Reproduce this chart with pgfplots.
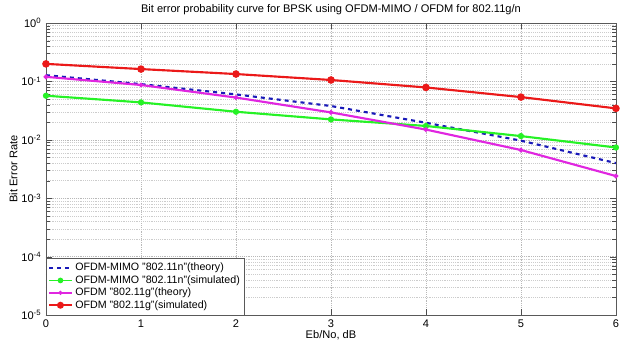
\documentclass[border=0pt]{standalone}
\usepackage{pgfplots}
\pgfplotsset{compat=1.18}
\usepackage{fontspec}
\setmainfont{Liberation Sans}
\definecolor{mblue}{rgb}{0.1,0.1,0.72}
\definecolor{mmag}{rgb}{0.88,0.15,0.88}
\definecolor{mgreen}{rgb}{0.15,0.95,0.15}
\definecolor{mred}{rgb}{0.92,0.1,0.1}
\begin{document}
\begin{tikzpicture}[x=1pt,y=1pt]
\begin{axis}[
  scale only axis,
  width=427.5pt, height=219pt,
  ymode=log,
  xmin=0, xmax=6, ymin=1e-5, ymax=1,
  xtick={0,1,2,3,4,5,6},
  ytick={1e-5,1e-4,1e-3,1e-2,1e-1,1},
  yticklabels={10\textsuperscript{-5},10\textsuperscript{-4},10\textsuperscript{-3},10\textsuperscript{-2},10\textsuperscript{-1},10\textsuperscript{0}},
  grid=both,
  major grid style={gray!55, densely dotted, line width=0.4pt},
  minor grid style={gray!40, densely dotted, line width=0.4pt},
  axis line style={gray!70!black, line width=0.6pt},
  tick style={gray!60!black},
  tick align=inside,
  ticklabel style={font=\fontsize{8.3}{9}\selectfont},
  /pgf/number format/assume math mode=true,
  title={Bit error probability curve for BPSK using OFDM-MIMO / OFDM for 802.11g/n},
  title style={font=\fontsize{8.3}{9}\selectfont, yshift=-3.5pt},
  xlabel={Eb/No, dB},
  ylabel={Bit Error Rate},
  label style={font=\fontsize{8.3}{9}\selectfont},
  xlabel style={yshift=5pt},
  ylabel style={yshift=-4pt},
  legend cell align=left,
  legend style={at={(0,0)}, anchor=south west, font=\fontsize{8}{9}\selectfont,
    draw=gray!70!black, row sep=-2pt, inner sep=1.5pt},
  legend image post style={line width=1.2pt},
]
\addplot[mblue, dashed, line width=1.6pt] coordinates {
(0,0.128) (1,0.090) (2,0.060) (3,0.038) (4,0.0196) (5,0.0097) (6,0.0040)};
\addlegendentry{OFDM-MIMO "802.11n"(theory)}
\addplot[mgreen, line width=1.6pt, mark=*, mark size=1.5pt] coordinates {
(0,0.057) (1,0.0438) (2,0.0303) (3,0.0224) (4,0.0173) (5,0.0116) (6,0.0074)};
\addlegendentry{OFDM-MIMO "802.11n"(simulated)}
\addplot[mmag, line width=1.6pt, mark=*, mark size=0.9pt] coordinates {
(0,0.120) (1,0.087) (2,0.053) (3,0.0295) (4,0.015) (5,0.0067) (6,0.0024)};
\addlegendentry{OFDM "802.11g"(theory)}
\addplot[mred, line width=1.6pt, mark=*, mark size=2pt] coordinates {
(0,0.200) (1,0.163) (2,0.134) (3,0.106) (4,0.079) (5,0.054) (6,0.0346)};
\addlegendentry{OFDM "802.11g"(simulated)}
\end{axis}
\path (current axis.south west) ++(-34.5pt,-21pt) coordinate (bl);
\path (current axis.north east) ++(8.3pt,17.3pt) coordinate (tr);
\useasboundingbox (bl) rectangle (tr);
\end{tikzpicture}
\end{document}
